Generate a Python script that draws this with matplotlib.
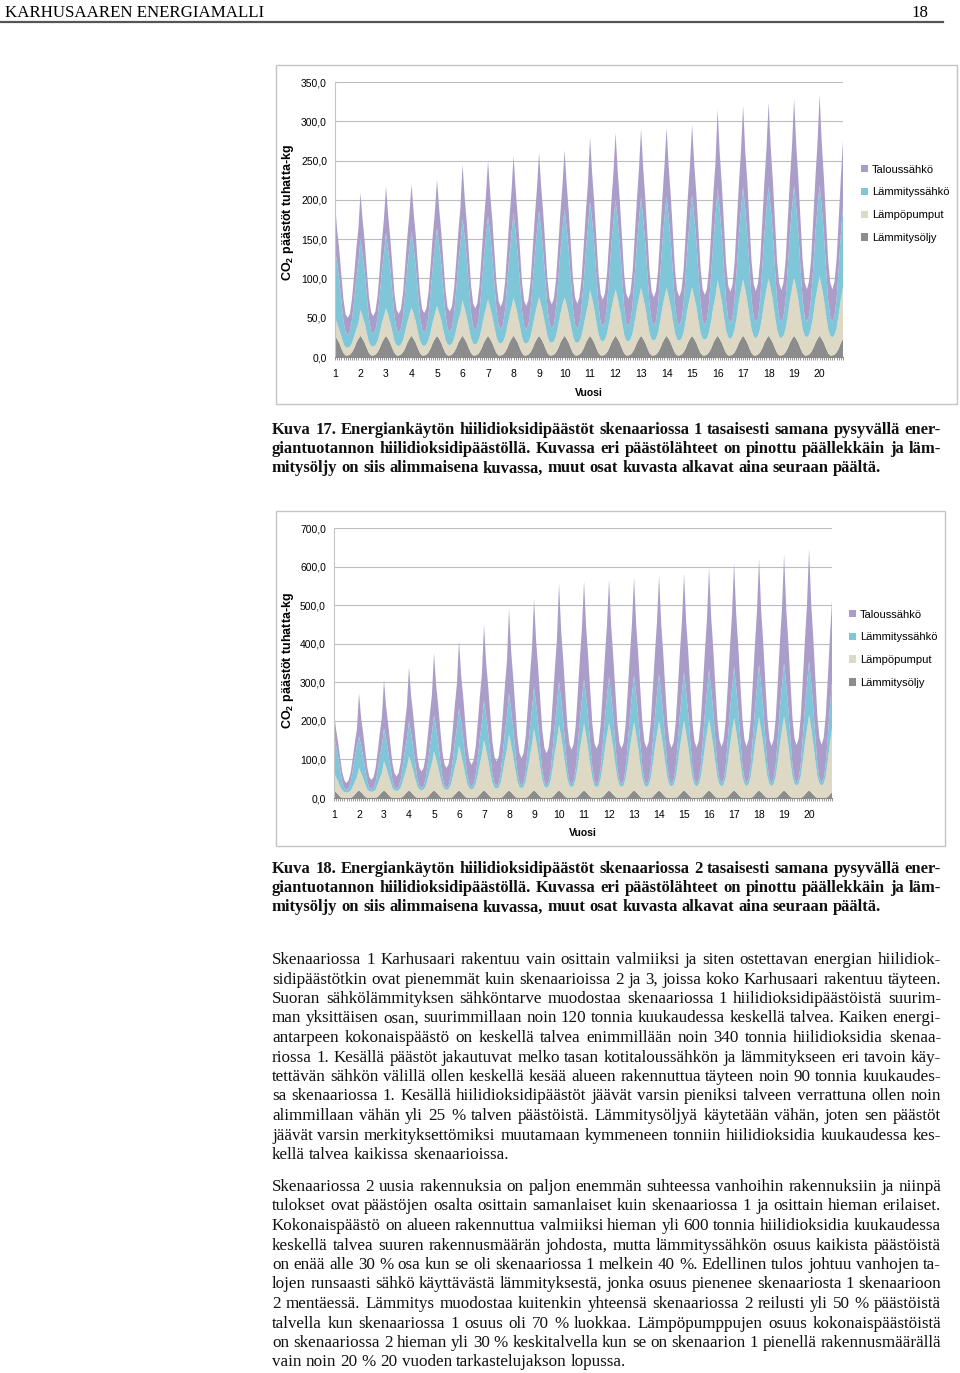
import matplotlib
matplotlib.use('Agg')
import matplotlib.pyplot as plt
import numpy as np
from matplotlib.ticker import FuncFormatter
from matplotlib.patches import Rectangle

W, H = 960, 1373
SERIF = ['Liberation Serif', 'DejaVu Serif']
SANS = ['Liberation Sans', 'DejaVu Sans']

plt.rcParams['font.family'] = SANS
plt.rcParams['mathtext.fontset'] = 'custom'
plt.rcParams['mathtext.rm'] = 'Liberation Sans'
plt.rcParams['mathtext.bf'] = 'Liberation Sans:bold'

# ---- data: monthly CO2 emissions (tuhatta kg), one row per year (Jan..Dec)
years = [str(i) for i in range(1, 21)]
series_names = ['Lämmitysöljy', 'Lämpöpumput', 'Lämmityssähkö', 'Taloussähkö']
colors = ['#8c8c8c', '#ddd9c4', '#7fc6d9', '#ab9dc9']

# Skenaario 1
s1_oljy = [[27, 23, 18, 11, 5, 2, 2, 3, 6, 11, 18, 23]] * 20
s1_pumput = [
    [22, 20, 17, 15, 12, 10, 10, 10, 12, 15, 17, 20],
    [33, 29, 25, 19, 14, 12, 11, 12, 14, 19, 25, 29],
    [35, 31, 26, 21, 15, 13, 12, 13, 15, 21, 26, 31],
    [36, 32, 27, 21, 16, 13, 12, 13, 16, 21, 27, 32],
    [38, 33, 29, 23, 17, 14, 13, 14, 17, 23, 29, 33],
    [45, 39, 33, 26, 19, 15, 14, 15, 19, 26, 33, 39],
    [46, 40, 34, 27, 20, 16, 15, 16, 20, 27, 34, 40],
    [48, 42, 35, 28, 20, 16, 15, 16, 20, 28, 35, 42],
    [49, 43, 36, 29, 21, 17, 16, 17, 21, 29, 36, 43],
    [49, 43, 36, 29, 21, 17, 16, 17, 21, 29, 36, 43],
    [58, 51, 43, 33, 24, 19, 18, 19, 24, 33, 43, 51],
    [59, 52, 43, 34, 24, 19, 18, 19, 24, 34, 43, 52],
    [61, 53, 45, 35, 25, 20, 19, 20, 25, 35, 45, 53],
    [61, 53, 45, 35, 25, 20, 19, 20, 25, 35, 45, 53],
    [62, 54, 46, 36, 26, 21, 20, 21, 26, 36, 46, 54],
    [71, 62, 52, 40, 29, 23, 21, 23, 29, 40, 52, 62],
    [72, 63, 53, 41, 30, 24, 22, 24, 30, 41, 53, 63],
    [73, 64, 54, 41, 30, 24, 22, 24, 30, 41, 54, 64],
    [74, 65, 55, 42, 31, 25, 23, 25, 31, 42, 55, 65],
    [76, 66, 56, 43, 31, 25, 23, 25, 31, 43, 56, 66],
]
s1_lsahko = [
    [88, 77, 64, 46, 29, 19, 16, 19, 29, 46, 64, 77],
    [90, 79, 65, 47, 29, 19, 16, 19, 29, 47, 65, 79],
    [95, 83, 69, 50, 31, 20, 17, 20, 31, 50, 69, 83],
    [97, 85, 70, 51, 31, 20, 17, 20, 31, 51, 70, 85],
    [99, 87, 71, 51, 32, 20, 17, 20, 32, 51, 71, 87],
    [104, 91, 75, 54, 33, 21, 18, 21, 33, 54, 75, 91],
    [106, 93, 76, 55, 34, 22, 18, 22, 34, 55, 76, 93],
    [108, 94, 77, 56, 34, 22, 18, 22, 34, 56, 77, 94],
    [110, 96, 79, 57, 35, 22, 18, 22, 35, 57, 79, 96],
    [112, 98, 80, 57, 35, 22, 18, 22, 35, 57, 80, 98],
    [113, 99, 81, 58, 36, 23, 19, 23, 36, 58, 81, 99],
    [114, 100, 82, 59, 36, 23, 19, 23, 36, 59, 82, 100],
    [115, 101, 82, 59, 36, 23, 19, 23, 36, 59, 82, 101],
    [116, 101, 83, 60, 36, 23, 19, 23, 36, 60, 83, 101],
    [117, 102, 84, 60, 37, 23, 19, 23, 37, 60, 84, 102],
    [117, 102, 84, 61, 37, 24, 20, 24, 37, 61, 84, 102],
    [117, 102, 84, 61, 37, 24, 20, 24, 37, 61, 84, 102],
    [117, 102, 84, 61, 37, 24, 20, 24, 37, 61, 84, 102],
    [117, 102, 84, 61, 37, 24, 20, 24, 37, 61, 84, 102],
    [116, 102, 83, 60, 37, 24, 20, 24, 37, 60, 83, 102],
]
s1_talous = [
    [59, 42, 38, 32, 27, 23, 22, 23, 27, 32, 38, 43],
    [59, 43, 38, 33, 28, 24, 23, 24, 28, 33, 38, 44],
    [60, 44, 39, 34, 29, 25, 24, 25, 29, 34, 39, 45],
    [60, 44, 40, 35, 30, 26, 25, 26, 30, 35, 40, 45],
    [62, 46, 41, 36, 31, 27, 26, 27, 31, 36, 41, 47],
    [69, 51, 45, 40, 34, 30, 28, 30, 34, 40, 45, 52],
    [71, 52, 47, 41, 35, 31, 29, 31, 35, 41, 47, 53],
    [73, 54, 48, 42, 36, 32, 30, 32, 36, 42, 48, 55],
    [74, 55, 49, 43, 37, 33, 31, 33, 37, 43, 49, 56],
    [75, 56, 50, 44, 38, 34, 32, 34, 38, 44, 50, 57],
    [82, 60, 54, 47, 41, 36, 34, 36, 41, 47, 54, 62],
    [85, 62, 56, 49, 42, 37, 35, 37, 42, 49, 56, 64],
    [87, 64, 57, 50, 43, 38, 36, 38, 43, 50, 57, 66],
    [88, 65, 58, 51, 44, 39, 37, 39, 44, 51, 58, 67],
    [90, 67, 60, 53, 45, 40, 38, 40, 45, 53, 60, 68],
    [100, 73, 65, 57, 48, 42, 40, 42, 48, 57, 65, 75],
    [104, 75, 67, 58, 49, 43, 40, 43, 49, 58, 67, 77],
    [107, 77, 69, 60, 50, 44, 41, 44, 50, 60, 69, 79],
    [111, 80, 70, 61, 51, 44, 41, 44, 51, 61, 70, 82],
    [115, 82, 72, 62, 51, 44, 41, 44, 51, 62, 72, 84],
]

# Skenaario 2
s2_oljy = [[20, 15, 9, 3, 0, 0, 0, 0, 0, 3, 9, 15]] * 20
s2_pumput = [
    [45, 39, 33, 26, 19, 15, 14, 15, 19, 26, 33, 39],
    [58, 50, 42, 32, 22, 17, 16, 17, 22, 32, 42, 50],
    [75, 65, 53, 40, 27, 20, 18, 20, 27, 40, 53, 65],
    [88, 76, 62, 46, 30, 22, 20, 22, 30, 46, 62, 76],
    [101, 87, 71, 51, 33, 23, 21, 23, 33, 51, 71, 87],
    [115, 98, 80, 57, 36, 25, 22, 25, 36, 57, 80, 98],
    [130, 111, 90, 64, 40, 27, 24, 27, 40, 64, 90, 111],
    [145, 123, 99, 71, 43, 29, 25, 29, 43, 71, 99, 123],
    [158, 134, 108, 76, 46, 30, 26, 30, 46, 76, 108, 134],
    [170, 144, 116, 82, 49, 32, 28, 32, 49, 82, 116, 144],
    [173, 147, 118, 83, 50, 32, 28, 32, 50, 83, 118, 147],
    [175, 149, 120, 85, 51, 33, 29, 33, 51, 85, 120, 149],
    [177, 150, 121, 85, 51, 33, 29, 33, 51, 85, 121, 150],
    [179, 152, 122, 87, 52, 34, 30, 34, 52, 87, 122, 152],
    [181, 154, 124, 87, 53, 35, 30, 35, 53, 87, 124, 154],
    [185, 157, 126, 89, 53, 35, 30, 35, 53, 89, 126, 157],
    [188, 160, 128, 91, 55, 36, 31, 36, 55, 91, 128, 160],
    [190, 161, 130, 91, 55, 36, 31, 36, 55, 91, 130, 161],
    [192, 163, 131, 93, 56, 37, 32, 37, 56, 93, 131, 163],
    [195, 166, 133, 94, 56, 37, 32, 37, 56, 94, 133, 166],
]
s2_lsahko = [
    [95, 82, 65, 43, 22, 10, 6, 10, 22, 43, 65, 82],
    [82, 71, 56, 38, 20, 9, 6, 9, 20, 38, 56, 71],
    [86, 74, 59, 40, 20, 9, 6, 9, 20, 40, 59, 74],
    [90, 77, 61, 41, 21, 9, 6, 9, 21, 41, 61, 77],
    [94, 81, 64, 43, 22, 10, 6, 10, 22, 43, 64, 81],
    [98, 84, 67, 45, 23, 11, 7, 11, 23, 45, 67, 84],
    [102, 88, 70, 47, 24, 11, 7, 11, 24, 47, 70, 88],
    [106, 91, 72, 49, 25, 11, 7, 11, 25, 49, 72, 91],
    [110, 95, 75, 50, 26, 11, 7, 11, 26, 50, 75, 95],
    [113, 97, 77, 52, 26, 11, 7, 11, 26, 52, 77, 97],
    [116, 100, 79, 53, 27, 11, 7, 11, 27, 53, 79, 100],
    [119, 102, 81, 54, 27, 11, 7, 11, 27, 54, 81, 102],
    [121, 104, 82, 55, 28, 12, 7, 12, 28, 55, 82, 104],
    [123, 106, 84, 56, 28, 12, 7, 12, 28, 56, 84, 106],
    [125, 107, 85, 57, 28, 12, 7, 12, 28, 57, 85, 107],
    [129, 111, 88, 59, 30, 13, 8, 13, 30, 59, 88, 111],
    [132, 113, 90, 60, 30, 13, 8, 13, 30, 60, 90, 113],
    [135, 116, 92, 61, 31, 13, 8, 13, 31, 61, 92, 116],
    [138, 119, 94, 63, 31, 13, 8, 13, 31, 63, 94, 119],
    [140, 120, 95, 63, 32, 13, 8, 13, 32, 63, 95, 120],
]
s2_talous = [
    [60, 42, 36, 31, 25, 21, 19, 21, 25, 31, 36, 43],
    [112, 73, 62, 49, 37, 28, 25, 28, 37, 49, 62, 75],
    [125, 83, 71, 58, 45, 36, 32, 36, 45, 58, 71, 86],
    [142, 97, 85, 71, 57, 47, 43, 47, 57, 71, 85, 100],
    [160, 111, 97, 82, 66, 55, 51, 55, 66, 82, 97, 114],
    [176, 122, 107, 90, 74, 62, 57, 62, 74, 90, 107, 126],
    [198, 138, 120, 102, 83, 69, 64, 69, 83, 102, 120, 142],
    [219, 152, 133, 112, 92, 77, 71, 77, 92, 112, 133, 157],
    [229, 163, 144, 124, 103, 89, 83, 89, 103, 124, 144, 168],
    [253, 180, 158, 136, 113, 97, 90, 97, 113, 136, 158, 185],
    [253, 181, 160, 138, 115, 99, 93, 99, 115, 138, 160, 186],
    [253, 181, 160, 138, 115, 99, 93, 99, 115, 138, 160, 186],
    [254, 182, 161, 139, 116, 100, 94, 100, 116, 139, 161, 187],
    [254, 182, 161, 138, 116, 99, 93, 99, 116, 138, 161, 186],
    [256, 183, 162, 139, 117, 100, 94, 100, 117, 139, 162, 188],
    [263, 187, 166, 142, 119, 102, 95, 102, 119, 142, 166, 192],
    [270, 191, 169, 144, 120, 102, 95, 102, 120, 144, 169, 197],
    [276, 195, 172, 146, 121, 103, 96, 103, 121, 146, 172, 200],
    [281, 198, 174, 149, 123, 104, 97, 104, 123, 149, 174, 204],
    [292, 205, 180, 152, 125, 106, 98, 106, 125, 152, 180, 211],
]

header_left = 'KARHUSAAREN ENERGIAMALLI'
header_right = '18'

caption17 = [
    'Kuva 17. Energiankäytön hiilidioksidipäästöt skenaariossa 1 tasaisesti samana pysyvällä ener-',
    'giantuotannon hiilidioksidipäästöllä. Kuvassa eri päästölähteet on pinottu päällekkäin ja läm-',
    'mitysöljy on siis alimmaisena kuvassa, muut osat kuvasta alkavat aina seuraan päältä.',
]
caption18 = [
    'Kuva 18. Energiankäytön hiilidioksidipäästöt skenaariossa 2 tasaisesti samana pysyvällä ener-',
    'giantuotannon hiilidioksidipäästöllä. Kuvassa eri päästölähteet on pinottu päällekkäin ja läm-',
    'mitysöljy on siis alimmaisena kuvassa, muut osat kuvasta alkavat aina seuraan päältä.',
]
para1 = [
    'Skenaariossa 1 Karhusaari rakentuu vain osittain valmiiksi ja siten ostettavan energian hiilidiok-',
    'sidipäästötkin ovat pienemmät kuin skenaarioissa 2 ja 3, joissa koko Karhusaari rakentuu täyteen.',
    'Suoran sähkölämmityksen sähköntarve muodostaa skenaariossa 1 hiilidioksidipäästöistä suurim-',
    'man yksittäisen osan, suurimmillaan noin 120 tonnia kuukaudessa keskellä talvea. Kaiken energi-',
    'antarpeen kokonaispäästö on keskellä talvea enimmillään noin 340 tonnia hiilidioksidia skenaa-',
    'riossa 1. Kesällä päästöt jakautuvat melko tasan kotitaloussähkön ja lämmitykseen eri tavoin käy-',
    'tettävän sähkön välillä ollen keskellä kesää alueen rakennuttua täyteen noin 90 tonnia kuukaudes-',
    'sa skenaariossa 1. Kesällä hiilidioksidipäästöt jäävät varsin pieniksi talveen verrattuna ollen noin',
    'alimmillaan vähän yli 25 % talven päästöistä. Lämmitysöljyä käytetään vähän, joten sen päästöt',
    'jäävät varsin merkityksettömiksi muutamaan kymmeneen tonniin hiilidioksidia kuukaudessa kes-',
    'kellä talvea kaikissa skenaarioissa.',
]
para2 = [
    'Skenaariossa 2 uusia rakennuksia on paljon enemmän suhteessa vanhoihin rakennuksiin ja niinpä',
    'tulokset ovat päästöjen osalta osittain samanlaiset kuin skenaariossa 1 ja osittain hieman erilaiset.',
    'Kokonaispäästö on alueen rakennuttua valmiiksi hieman yli 600 tonnia hiilidioksidia kuukaudessa',
    'keskellä talvea suuren rakennusmäärän johdosta, mutta lämmityssähkön osuus kaikista päästöistä',
    'on enää alle 30 % osa kun se oli skenaariossa 1 melkein 40 %. Edellinen tulos johtuu vanhojen ta-',
    'lojen runsaasti sähkö käyttävästä lämmityksestä, jonka osuus pienenee skenaariosta 1 skenaarioon',
    '2 mentäessä. Lämmitys muodostaa kuitenkin yhteensä skenaariossa 2 reilusti yli 50 % päästöistä',
    'talvella kun skenaariossa 1 osuus oli 70 % luokkaa. Lämpöpumppujen osuus kokonaispäästöistä',
    'on skenaariossa 2 hieman yli 30 % keskitalvella kun se on skenaarion 1 pienellä rakennusmäärällä',
    'vain noin 20 % 20 vuoden tarkastelujakson lopussa.',
]

fig = plt.figure(figsize=(W / 100, H / 100), dpi=100)
page = fig.add_axes([0, 0, 1, 1])
page.set_xlim(0, W)
page.set_ylim(H, 0)
page.axis('off')
renderer = fig.canvas.get_renderer()


def text_width(s, size, weight):
    t = page.text(0, 0, s, fontsize=size, fontweight=weight, family=SERIF)
    w = t.get_window_extent(renderer=renderer).width
    t.remove()
    return w


def fit_size(lines, weight, width):
    worst = max(text_width(ln, 10, weight) / width for ln in lines)
    return 10 / worst


def justify(lines, y0, step, size, weight, x0=272, x1=941):
    for i, ln in enumerate(lines):
        y = y0 + i * step
        words = ln.split(' ')
        ts = [page.text(0, y, w, fontsize=size, fontweight=weight, family=SERIF,
                        va='baseline', ha='left', color='#111111') for w in words]
        ws = [t.get_window_extent(renderer=renderer).width for t in ts]
        if i == len(lines) - 1:
            gap = 0.25 * size * 100 / 72
        else:
            gap = (x1 - x0 - sum(ws)) / (len(words) - 1)
        x = x0
        for t, w in zip(ts, ws):
            t.set_x(x)
            x += w + gap


# header
hs = 10 * 260 / text_width(header_left, 10, 'normal')
page.text(5, 17, header_left, fontsize=hs, family=SERIF, va='baseline')
page.text(928, 17, header_right, fontsize=hs, family=SERIF, va='baseline', ha='right')
page.plot([0, 943], [22, 22], color='#555555', lw=1.6)

# chart frames
page.add_patch(Rectangle((276, 65), 681, 339, facecolor='white', edgecolor='#c4c4c4', lw=1))
page.add_patch(Rectangle((276, 511), 669, 335, facecolor='white', edgecolor='#c4c4c4', lw=1))


def chart(box, rows, ymax, ystep, title, title_xy, ylab_xy, vuosi_y, legend_xy):
    l, t, r, b = box
    ax = fig.add_axes([l / W, 1 - b / H, (r - l) / W, (b - t) / H])
    months = np.arange(240)
    layers = [np.ravel(np.array(rw)) for rw in rows]
    polys = ax.stackplot(months, *layers, colors=colors, linewidth=0)
    ax.set_xlim(0, 239)
    ax.set_ylim(0, ymax)
    ax.set_yticks(np.arange(0, ymax + 1, ystep))
    ax.yaxis.set_major_formatter(FuncFormatter(lambda v, p: f'{v:.1f}'.replace('.', ',')))
    ax.set_xticks(range(0, 240, 12))
    ax.set_xticklabels(years)
    ax.set_xticks(range(240), minor=True)
    ax.tick_params(axis='x', which='both', length=2.2, width=0.6, color='#8a8a8a',
                   pad=6.5, labelsize=7.5)
    ax.tick_params(axis='y', length=0, pad=5.8, labelsize=7.5)
    ax.grid(axis='y', color='#bdbdbd', lw=0.8)
    ax.set_axisbelow(True)
    for s in ['top', 'right']:
        ax.spines[s].set_visible(False)
    ax.spines['left'].set_color('#c4c4c4')
    ax.spines['bottom'].set_color('#8a8a8a')
    page.text(*title_xy, title, family=SANS, fontsize=12, fontweight='bold',
              ha='center', va='center')
    page.text(*ylab_xy, r'CO$_{\mathbf{2}}$ päästöt tuhatta-kg', family=SANS, fontsize=9,
              fontweight='bold', rotation=90, ha='center', va='center')
    page.text((l + r) / 2, vuosi_y, 'Vuosi', family=SANS, fontsize=7.5,
              fontweight='bold', ha='center', va='center')
    ax.legend(polys[::-1], series_names[::-1], loc='upper left', frameon=False,
              bbox_to_anchor=(legend_xy[0] / W, 1 - legend_xy[1] / H),
              bbox_transform=fig.transFigure, fontsize=8, borderpad=0,
              labelspacing=1.15, handlelength=0.65, handleheight=0.65,
              handletextpad=0.4)
    return ax


chart((335, 82, 843, 357), [s1_oljy, s1_pumput, s1_lsahko, s1_talous], 350, 50,
      'Skenaario 1', (591, 101), (288, 212), 393, (855, 159))
chart((334, 528, 832, 798), [s2_oljy, s2_pumput, s2_lsahko, s2_talous], 700, 100,
      'Skenaario 2', (585, 547), (288, 660), 833, (843, 604))

# captions and body text
cs = fit_size(caption17[:-1] + caption18[:-1], 'bold', 669)
justify(caption17, 434, 19.2, cs, 'bold')
justify(caption18, 873, 19.2, cs, 'bold')
bs = fit_size(para1[:-1] + para2[:-1], 'normal', 669)
justify(para1, 964, 19.5, bs, 'normal')
justify(para2, 1191, 19.5, bs, 'normal')

fig.savefig('out.png', dpi=100)
